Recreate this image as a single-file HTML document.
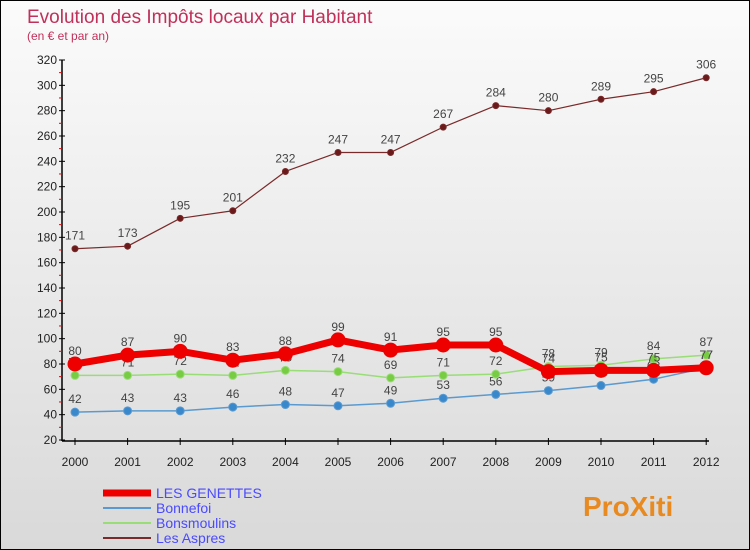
<!DOCTYPE html>
<html><head><meta charset="utf-8"><style>
body{margin:0}
#wrap{width:748px;height:548px;border:1px solid #000;background:linear-gradient(#fbfbfb,#d9d9d9);position:relative;font-family:"Liberation Sans",sans-serif;overflow:hidden}
</style></head><body>
<div id="wrap">
<svg id="c" width="748" height="548"></svg>
</div>
<script>
const years=["2000","2001","2002","2003","2004","2005","2006","2007","2008","2009","2010","2011","2012"];
const genettes=[80,87,90,83,88,99,91,95,95,74,75,75,77];
const bonnefoi=[42,43,43,46,48,47,49,53,56,59,63,68,77];
const bonsmoulins=[71,71,72,71,75,74,69,71,72,78,79,84,87];
const aspres=[171,173,195,201,232,247,247,267,284,280,289,295,306];
const yTicks=[20,40,60,80,100,120,140,160,180,200,220,240,260,280,300,320];
const NS="http://www.w3.org/2000/svg";
const svg=document.getElementById('c');
const X=i=>74+i*52.6;
const Y=v=>439-(v-20)*380/300;
function mk(t,a,p){const e=document.createElementNS(NS,t);for(const k in a)e.setAttribute(k,a[k]);(p||svg).appendChild(e);return e;}
let t=mk('text',{x:26,y:22,fill:'#c0305a','font-size':19});t.textContent='Evolution des Impôts locaux par Habitant';


t=mk('text',{x:26,y:39,fill:'#c0305a','font-size':12});t.textContent='(en € et par an)';


// axes
let ax=mk('line',{x1:61,y1:59,x2:61,y2:440,stroke:'#000','stroke-width':1.5});


ax=mk('line',{x1:61,y1:440,x2:708,y2:440,stroke:'#000','stroke-width':1.5});


yTicks.forEach(v=>{const y=Y(v);mk('line',{x1:58,y1:y,x2:64,y2:y,stroke:'#000'});
 if(v<320)mk('line',{x1:58,y1:y-12.7,x2:61,y2:y-12.7,stroke:'#e00'});
 const l=mk('text',{x:56,y:y+4,'text-anchor':'end','font-size':12,fill:'#222'});l.textContent=v;
 
 });
years.forEach((yr,i)=>{const x=X(i);mk('line',{x1:x,y1:437,x2:x,y2:444,stroke:'#000'});
 const l=mk('text',{x:x,y:465,'text-anchor':'middle','font-size':12,fill:'#222'});l.textContent=yr;
 
 });
function series(vals,color,w,r,name,dot){
 const g=mk('g',{});
 mk('polyline',{points:vals.map((v,i)=>X(i)+','+Y(v)).join(' '),fill:'none',stroke:color,'stroke-width':w,'stroke-linejoin':'round'},g);
 vals.forEach((v,i)=>{const c=mk('circle',{cx:X(i),cy:Y(v),r:r,fill:dot,stroke:color,'stroke-width':1},g);
  
  
  const l=mk('text',{x:X(i),y:Y(v)-9,'text-anchor':'middle','font-size':12,fill:'#444'},g);l.textContent=v;
  
  });
}
series(aspres,'#7a2a2a',1.2,3,'series-les-aspres','#6a1a1a');
series(bonnefoi,'#5a9ad0',1.5,4,'series-bonnefoi','#3a88cc');
series(bonsmoulins,'#99dd77',1.5,4,'series-bonsmoulins','#77cc44');
series(genettes,'#ee0000',7,7,'series-les-genettes','#ee0000');
// legend
const leg=[['LES GENETTES','#ee0000',7],['Bonnefoi','#5a9ad0',2],['Bonsmoulins','#99dd77',2],['Les Aspres','#7a2a2a',2]];
leg.forEach((d,i)=>{const y=492+i*15;const g=mk('g',{});
 mk('line',{x1:102,y1:y,x2:150,y2:y,stroke:d[1],'stroke-width':d[2]},g);
 const l=mk('text',{x:155,y:y+5,'font-size':14,fill:'#4a4aff'},g);l.textContent=d[0];});
const lg=mk('text',{x:582,y:515,'font-size':28,'font-weight':'bold',fill:'#e88a20'});lg.textContent='ProXiti';


</script>
</body></html>
